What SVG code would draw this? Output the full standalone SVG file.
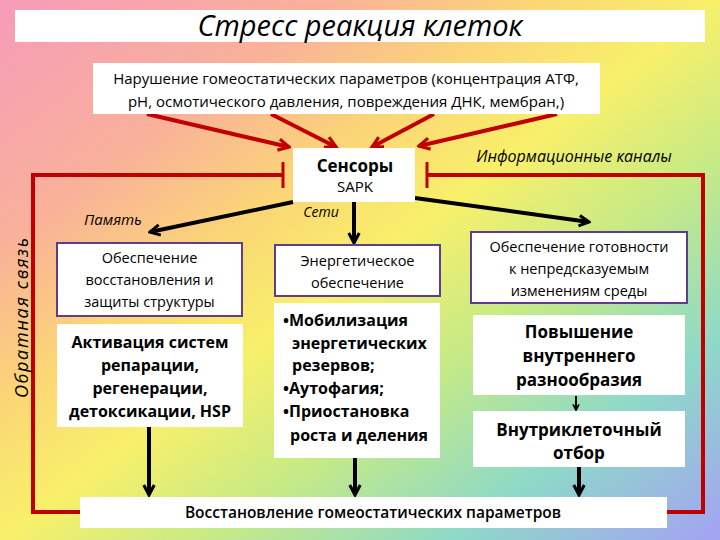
<svg xmlns="http://www.w3.org/2000/svg" width="720" height="540" viewBox="0 0 720 540">
<defs>
<linearGradient id="bg" gradientUnits="userSpaceOnUse" x1="0" y1="0" x2="540" y2="720">
<stop offset="0" stop-color="#F69BBA"/>
<stop offset="0.22" stop-color="#F9B19A"/>
<stop offset="0.36" stop-color="#FBD676"/>
<stop offset="0.48" stop-color="#F8F06A"/>
<stop offset="0.62" stop-color="#C6EA86"/>
<stop offset="0.78" stop-color="#8ED9C8"/>
<stop offset="0.96" stop-color="#A4A2F4"/>
</linearGradient>
<marker id="ar" viewBox="0 0 12 12" refX="10" refY="6" markerWidth="15" markerHeight="15" markerUnits="userSpaceOnUse" orient="auto">
<path d="M1.5,1.5 L10,6 L1.5,10.5" fill="none" stroke="#C00000" stroke-width="2.6"/>
</marker>
<marker id="ab" viewBox="0 0 12 12" refX="10" refY="6" markerWidth="14" markerHeight="14" markerUnits="userSpaceOnUse" orient="auto">
<path d="M1.5,1.5 L10,6 L1.5,10.5" fill="none" stroke="#000" stroke-width="2.6"/>
</marker>
<marker id="abs" viewBox="0 0 12 12" refX="10" refY="6" markerWidth="8" markerHeight="8" markerUnits="userSpaceOnUse" orient="auto">
<path d="M1.5,1.5 L10,6 L1.5,10.5" fill="none" stroke="#000" stroke-width="2.6"/>
</marker>
</defs>
<style>
.box{fill:#fff;stroke:none}
.pbox{fill:#fff;stroke:#5E3D8F;stroke-width:2}
text{font-family:"Open Sans","Noto Sans","Liberation Sans",sans-serif;fill:#000;text-anchor:middle}
.reg{font-size:14.5px}
.b{font-size:16px;font-weight:bold}
.bl{font-size:17px;font-weight:bold}
.it{font-style:italic;font-size:14px}
.red{fill:none;stroke:#C00000;stroke-width:4}
.redT{fill:none;stroke:#C00000;stroke-width:3}
.blk{fill:none;stroke:#000;stroke-width:4}
</style>
<rect x="0" y="0" width="720" height="540" fill="url(#bg)"/>

<g id="connectors">
<line class="red" x1="147" y1="114" x2="289" y2="147" marker-end="url(#ar)"/>
<line class="red" x1="271" y1="114" x2="336" y2="147" marker-end="url(#ar)"/>
<line class="red" x1="434" y1="114" x2="372" y2="147" marker-end="url(#ar)"/>
<line class="red" x1="557" y1="114" x2="419" y2="146" marker-end="url(#ar)"/>
<path class="red" d="M283,175 H33 V512 H80"/>
<line class="redT" x1="283" y1="162" x2="283" y2="188"/>
<path class="red" d="M427,175 H703 V512 H667"/>
<line class="redT" x1="427" y1="162" x2="427" y2="188"/>
<line class="blk" x1="293" y1="202" x2="150" y2="232" marker-end="url(#ab)"/>
<line class="blk" x1="354" y1="202" x2="354" y2="243" marker-end="url(#ab)"/>
<line class="blk" x1="415" y1="198" x2="589" y2="222" marker-end="url(#ab)"/>
<line x1="576" y1="396" x2="576" y2="410" stroke="#000" stroke-width="2" marker-end="url(#abs)"/>
<line class="blk" x1="149" y1="427" x2="149" y2="495" marker-end="url(#ab)"/>
<line class="blk" x1="355" y1="458" x2="355" y2="495" marker-end="url(#ab)"/>
<line class="blk" x1="579" y1="467" x2="579" y2="495" marker-end="url(#ab)"/>
</g>

<g id="title">
<rect class="box" x="15" y="10" width="690" height="32"/>
<text x="360" y="36" style="font-size:29px;font-style:italic">Стресс реакция клеток</text>
</g>

<g id="disturbance">
<rect class="box" x="93" y="63" width="507" height="51"/>
<text x="346" y="84" style="font-size:15px">Нарушение гомеостатических параметров (концентрация АТФ,</text>
<text x="346" y="107" style="font-size:15px">рН, осмотического давления, повреждения ДНК, мембран,)</text>
</g>

<g id="sensors">
<rect class="box" x="293" y="148" width="122" height="54"/>
<text x="355" y="172" style="font-size:17px;font-weight:bold">Сенсоры</text>
<text x="355" y="192" style="font-size:15px">SAPK</text>
</g>

<g id="label-info">
<text x="574" y="162" class="it" style="font-size:16px">Информационные каналы</text>
</g>
<g id="label-memory">
<text x="113" y="225" class="it" style="font-size:15px">Память</text>
</g>
<g id="label-nets">
<text x="321" y="217" class="it">Сети</text>
</g>
<g id="label-feedback">
<text transform="translate(28,318) rotate(-90)" class="it" style="font-size:18px" textLength="160" lengthAdjust="spacing">Обратная связь</text>
</g>

<g id="restore-protect">
<rect class="pbox" x="57" y="243" width="185" height="73"/>
<text class="reg" x="149.5" y="263">Обеспечение</text>
<text class="reg" x="149.5" y="285">восстановления и</text>
<text class="reg" x="149.5" y="307">защиты структуры</text>
</g>

<g id="repair">
<rect class="box" x="57" y="324" width="186" height="103"/>
<text class="b" x="150" y="348">Активация систем</text>
<text class="b" x="150" y="371">репарации,</text>
<text class="b" x="150" y="394">регенерации,</text>
<text class="b" x="150" y="417">детоксикации, HSP</text>
</g>

<g id="energy">
<rect class="pbox" x="275" y="245" width="165" height="51"/>
<text class="reg" x="357.5" y="266">Энергетическое</text>
<text class="reg" x="357.5" y="288">обеспечение</text>
</g>

<g id="mobilization">
<rect class="box" x="274" y="303" width="166" height="155"/>
<text class="b" x="283" y="326" style="text-anchor:start">•Мобилизация</text>
<text class="b" x="292" y="349" style="text-anchor:start">энергетических</text>
<text class="b" x="292" y="371" style="text-anchor:start">резервов;</text>
<text class="b" x="283" y="394" style="text-anchor:start">•Аутофагия;</text>
<text class="b" x="283" y="417" style="text-anchor:start">•Приостановка</text>
<text class="b" x="290" y="441" style="text-anchor:start">роста и деления</text>
</g>

<g id="readiness">
<rect class="pbox" x="471" y="232" width="216" height="71"/>
<text class="reg" x="579" y="252">Обеспечение готовности</text>
<text class="reg" x="579" y="274">к непредсказуемым</text>
<text class="reg" x="579" y="296">изменениям среды</text>
</g>

<g id="diversity">
<rect class="box" x="473" y="315" width="212" height="80"/>
<text class="bl" x="579" y="338">Повышение</text>
<text class="bl" x="579" y="362">внутреннего</text>
<text class="bl" x="579" y="386">разнообразия</text>
</g>

<g id="selection">
<rect class="box" x="473" y="411" width="212" height="56"/>
<text class="bl" x="579" y="436">Внутриклеточный</text>
<text class="bl" x="579" y="459">отбор</text>
</g>

<g id="restoration">
<rect class="box" x="80" y="497" width="587" height="31"/>
<text x="373" y="518" style="font-size:15.5px;font-weight:600">Восстановление гомеостатических параметров</text>
</g>
</svg>
